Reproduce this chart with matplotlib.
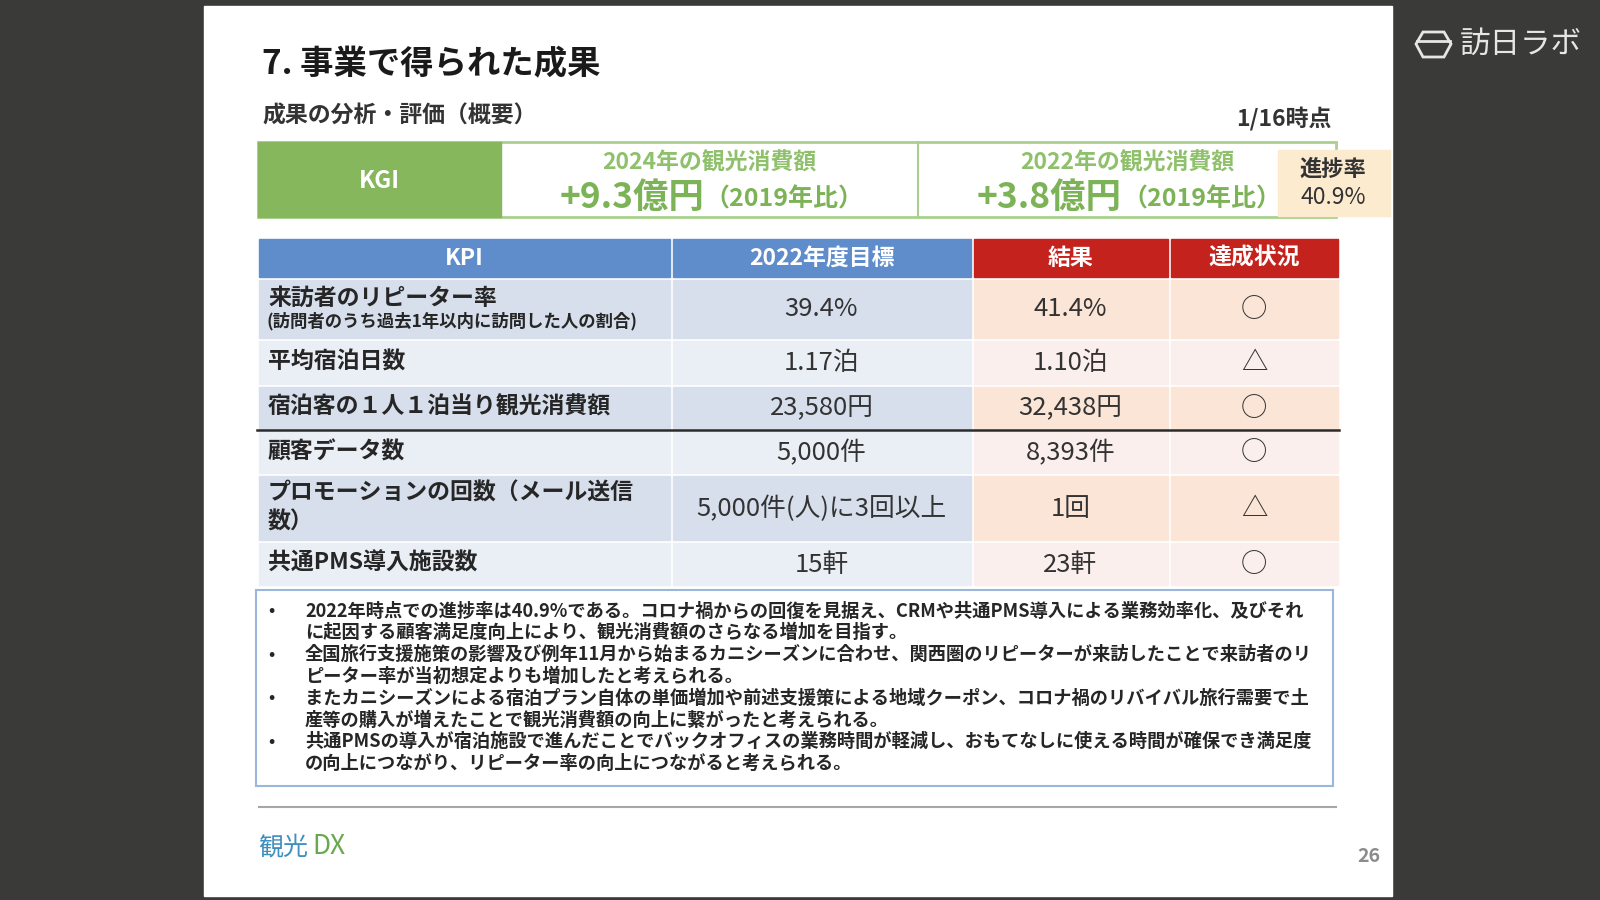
import matplotlib
matplotlib.use('Agg')
import matplotlib.pyplot as plt
from matplotlib.patches import Rectangle, Polygon

plt.rcParams['font.family'] = ['Noto Sans CJK JP', 'DejaVu Sans']

# --- slide text / data ---
title = '7. 事業で得られた成果'
subtitle = '成果の分析・評価（概要）'
as_of = '1/16時点'

kgi_label = 'KGI'
kgi_titles = ['2024年の観光消費額', '2022年の観光消費額']
kgi_values = ['+9.3億円', '+3.8億円']
kgi_note = '（2019年比）'
progress_label = '進捗率'
progress_value = '40.9%'

headers = ['KPI', '2022年度目標', '結果', '達成状況']
kpi_names = ['来訪者のリピーター率', '平均宿泊日数', '宿泊客の１人１泊当り観光消費額',
             '顧客データ数', 'プロモーションの回数（メール送信\n数）', '共通PMS導入施設数']
kpi_notes = ['(訪問者のうち過去1年以内に訪問した人の割合)', '', '', '', '', '']
targets = ['39.4%', '1.17泊', '23,580円', '5,000件', '5,000件(人)に3回以上', '15軒']
results = ['41.4%', '1.10泊', '32,438円', '8,393件', '1回', '23軒']
status = ['○', '△', '○', '○', '△', '○']

bullets = [
    ['2022年時点での進捗率は40.9%である。コロナ禍からの回復を見据え、CRMや共通PMS導入による業務効率化、及びそれ',
     'に起因する顧客満足度向上により、観光消費額のさらなる増加を目指す。'],
    ['全国旅行支援施策の影響及び例年11月から始まるカニシーズンに合わせ、関西圏のリピーターが来訪したことで来訪者のリ',
     'ピーター率が当初想定よりも増加したと考えられる。'],
    ['またカニシーズンによる宿泊プラン自体の単価増加や前述支援策による地域クーポン、コロナ禍のリバイバル旅行需要で土',
     '産等の購入が増えたことで観光消費額の向上に繋がったと考えられる。'],
    ['共通PMSの導入が宿泊施設で進んだことでバックオフィスの業務時間が軽減し、おもてなしに使える時間が確保でき満足度',
     'の向上につながり、リピーター率の向上につながると考えられる。'],
]
page_no = '26'

# --- colours ---
bg_dark = '#3a3a39'
green = '#86b75c'
green_border = '#a9d08e'
green_text = '#7cb356'
green_text_light = '#8fc16c'
beige = '#fcebcf'
blue_head = '#5f8ccb'
red_head = '#c3221d'
blue_rows = ['#d7dfec', '#eaeef5']
red_rows = ['#fbe5d6', '#fbefed']
txt = '#262626'

fig = plt.figure(figsize=(16, 9), dpi=100)
fig.patch.set_facecolor(bg_dark)
ax = fig.add_axes([0, 0, 1, 1])
ax.set_xlim(0, 1600)
ax.set_ylim(900, 0)
ax.axis('off')

# white slide
ax.add_patch(Rectangle((204, 6), 1188, 890, color='white', zorder=0))

# top right logo
hexa = [(1416, 44), (1423, 32), (1444, 32), (1451, 44), (1444, 57), (1423, 57)]
ax.add_patch(Polygon(hexa, closed=True, fill=False, ec='#e6e6e6', lw=2))
ax.plot([1417, 1450], [41, 41], color='#e6e6e6', lw=2)
ax.text(1460, 44, '訪日ラボ', color='#e6e6e6', fontsize=22, va='center', ha='left')

# titles
ax.text(262, 65, title, fontsize=24, fontweight='bold', color='#1a1a1a', va='center')
ax.text(262, 116, subtitle, fontsize=16.5, fontweight='bold', color='#333333', va='center')
ax.text(1331, 119, as_of, fontsize=16.5, fontweight='bold', color='#333333', va='center', ha='right')

# KGI strip
ax.add_patch(Rectangle((258, 142), 1078, 75, fill=False, ec=green_border, lw=2, zorder=1))
ax.add_patch(Rectangle((258, 142), 243, 75, color=green, zorder=2))
ax.plot([918, 918], [142, 217], color=green_border, lw=1.5, zorder=2)
ax.text(379, 181, kgi_label, fontsize=17, fontweight='bold', color='white', ha='center', va='center', zorder=3)
for cx, t, v in zip([709, 1127], kgi_titles, kgi_values):
    ax.text(cx, 163, t, fontsize=16.5, fontweight='bold', color=green_text_light, ha='center', va='center')
    ax.text(cx - 5, 197, v, fontsize=25.5, fontweight='bold', color=green_text, ha='right', va='center')
    ax.text(cx - 5, 199, kgi_note, fontsize=18, fontweight='bold', color=green_text, ha='left', va='center')
ax.add_patch(Rectangle((1278, 150), 112, 66, color=beige, zorder=3))
ax.text(1333, 169, progress_label, fontsize=16, fontweight='bold', color='#333333', ha='center', va='center', zorder=4)
ax.text(1333, 197, progress_value, fontsize=16.5, color='#333333', ha='center', va='center', zorder=4)

# KPI table
col_edges = [257, 671, 972, 1169, 1339]
row_edges = [239, 278, 339, 385, 430, 474, 541, 586]
gap = 1.5
head_colors = [blue_head, blue_head, red_head, red_head]
for j, h in enumerate(headers):
    x0, x1 = col_edges[j], col_edges[j + 1]
    ax.add_patch(Rectangle((x0 + gap, row_edges[0]), x1 - x0 - 2 * gap, row_edges[1] - row_edges[0] - gap,
                           color=head_colors[j], zorder=1))
    ax.text((x0 + x1) / 2, (row_edges[0] + row_edges[1]) / 2, h, fontsize=16.5, fontweight='bold',
            color='white', ha='center', va='center')

for i in range(len(kpi_names)):
    y0, y1 = row_edges[i + 1], row_edges[i + 2]
    yc = (y0 + y1) / 2
    for j in range(4):
        x0, x1 = col_edges[j], col_edges[j + 1]
        c = blue_rows[i % 2] if j < 2 else red_rows[i % 2]
        ax.add_patch(Rectangle((x0 + gap, y0 + gap), x1 - x0 - 2 * gap, y1 - y0 - 2 * gap, color=c, zorder=1))
    if kpi_notes[i]:
        ax.text(268, yc - 10, kpi_names[i], fontsize=16.5, fontweight='bold', color=txt, va='center')
        ax.text(266, yc + 13, kpi_notes[i], fontsize=12.5, fontweight='bold', color=txt, va='center')
    else:
        ax.text(268, yc, kpi_names[i], fontsize=16.5, fontweight='bold', color=txt, va='center',
                linespacing=1.3)
    ax.text((col_edges[1] + col_edges[2]) / 2, yc + 1, targets[i], fontsize=18.5, color='#333333',
            ha='center', va='center')
    ax.text((col_edges[2] + col_edges[3]) / 2, yc + 1, results[i], fontsize=18.5, color='#333333',
            ha='center', va='center')
    ax.text((col_edges[3] + col_edges[4]) / 2, yc + 1, status[i], fontsize=19, color='#333333',
            ha='center', va='center')

# black separator between rows 3 and 4
ax.plot([col_edges[0], col_edges[-1]], [row_edges[4], row_edges[4]], color='#2a2a2a', lw=1.8, zorder=3)

# notes box
ax.add_patch(Rectangle((256, 590), 1077, 196, fill=False, ec='#9bb8dc', lw=1.5))
line_y = 611
for para in bullets:
    ax.text(271, line_y, '•', fontsize=12, fontweight='bold', color=txt, ha='center', va='center')
    for ln in para:
        ax.text(305, line_y, ln, fontsize=13.15, fontweight='bold', color=txt, va='center')
        line_y += 21.8

# footer
ax.plot([259, 1336], [807, 807], color='#a6a6a6', lw=1.5)
logo1 = ax.text(258, 848, '観光', fontsize=18, color='#3f8fbf', style='italic', va='center')
fig.canvas.draw()
bb = logo1.get_window_extent().transformed(ax.transData.inverted())
ax.text(bb.x1 + 4, 847, 'DX', fontsize=19, color='#6aa84f', style='italic', va='center')
ax.text(1380, 856, page_no, fontsize=14, fontweight='bold', color='#8c8c8c', ha='right', va='center')

fig.savefig('out.png', dpi=100, facecolor=fig.get_facecolor())
